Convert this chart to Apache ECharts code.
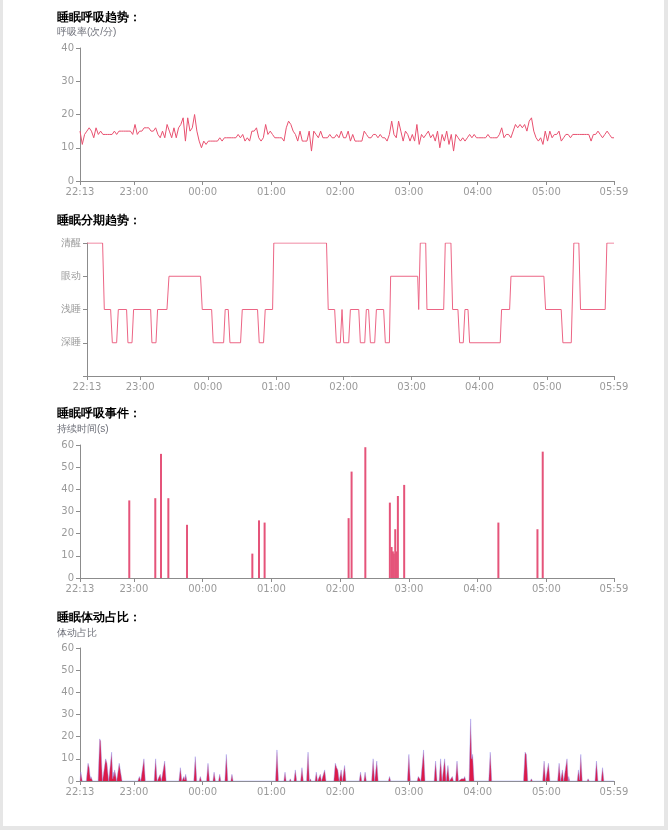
<!DOCTYPE html>
<html>
<head>
<meta charset="utf-8">
<script src="https://cdn.jsdelivr.net/npm/echarts@6/dist/echarts.min.js"></script>
<style>
  html, body { margin: 0; padding: 0; background: #e6e6e6; overflow: hidden; }
  #wrap { position: absolute; left: 3px; top: 0; width: 661px; height: 826px; background: #fff; }
  #main { width: 661px; height: 826px; }
</style>
</head>
<body>
<div id="wrap"><div id="main"></div></div>
<script>
// start of the night, all x values are minutes after this
var startTime = '22:13';
var timeLabels = ['22:13', '23:00', '00:00', '01:00', '02:00', '03:00', '04:00', '05:00', '05:59'];
var stageNames = ['', '深睡', '浅睡', '眼动', '清醒'];

// breathing rate, one reading every 2 minutes
var rateStep = 2;
var rateValues = [
  15, 11, 14, 15, 16, 15, 13, 16, 14, 15, 14, 14, 14, 14, 14, 15, 14, 15, 15, 15,
  15, 15, 15, 14, 17, 14, 15, 15, 16, 16, 16, 15, 15, 16, 14, 13, 15, 13, 17, 15,
  13, 16, 13, 16, 17, 19, 12, 19, 15, 16, 20, 15, 12, 10, 12, 11, 12, 12, 12, 12,
  12, 13, 12, 13, 13, 13, 13, 13, 13, 14, 13, 14, 12, 13, 12, 15, 15, 16, 13, 12,
  13, 17, 14, 15, 14, 13, 13, 13, 13, 12, 16, 18, 17, 15, 14, 12, 15, 12, 12, 12,
  15, 9, 15, 14, 13, 15, 13, 13, 13, 14, 13, 13, 14, 13, 15, 13, 13, 15, 12, 14,
  12, 12, 12, 12, 15, 14, 13, 13, 14, 14, 13, 14, 13, 13, 12, 14, 18, 14, 13, 18,
  15, 12, 15, 14, 12, 14, 12, 17, 11, 14, 13, 14, 15, 13, 14, 12, 15, 10, 14, 12,
  15, 11, 14, 9, 14, 13, 12, 13, 12, 13, 14, 13, 14, 13, 13, 13, 13, 13, 14, 13,
  13, 13, 13, 14, 16, 13, 14, 14, 13, 15, 17, 16, 17, 16, 17, 15, 18, 19, 15, 13,
  12, 13, 11, 15, 12, 15, 13, 14, 14, 15, 12, 13, 14, 14, 13, 14, 14, 14, 14, 14,
  14, 14, 14, 12, 14, 14, 15, 14, 13, 14, 15, 14, 13, 13
];

// sleep stage line vertices [minute, stage]
var stagePoints = [
  [0, 4], [13.8, 4], [15.3, 2], [20.9, 2], [22.4, 1], [26.2, 1], [27.7, 2], [35, 2],
  [36.2, 1], [39.8, 1], [41.2, 2], [56.3, 2], [57.4, 1], [61, 1], [62.4, 2], [70.7, 2],
  [72.5, 3], [100.4, 3], [101.9, 2], [110.2, 2], [111.6, 1], [120.8, 1], [122.2, 2], [124.9, 2],
  [126.4, 1], [135.8, 1], [137.3, 2], [150.8, 2], [152.3, 1], [156.1, 1], [157.6, 2], [164.1, 2],
  [165.2, 4], [211.8, 4], [213.3, 2], [219, 2], [220.5, 1], [224, 1], [225.5, 2], [226.1, 2],
  [227, 1], [231.4, 1], [232.9, 2], [240.3, 2], [241.7, 1], [245.6, 1], [247, 2], [249, 2],
  [250.6, 1], [254.4, 1], [255.9, 2], [262.3, 2], [263.8, 1], [267.4, 1], [268.5, 3], [292.4, 3],
  [293.3, 2], [294.7, 4], [299.5, 4], [300.6, 2], [315.4, 2], [316.8, 4], [321.8, 4], [323.3, 2],
  [328, 2], [329.5, 1], [332.7, 1], [334.2, 2], [336.9, 2], [338.3, 1], [365.4, 1], [366.6, 2],
  [373.7, 2], [374.9, 3], [404, 3], [405.5, 2], [419.3, 2], [420.8, 1], [428.2, 1], [430.5, 4],
  [434.9, 4], [436.4, 2], [458.2, 2], [459.7, 4], [466, 4]
];

// breathing events (duration in seconds)
var eventTimes = [43, 65.7, 70.7, 77.1, 93.4, 150.4, 156.2, 161.1, 234.4, 237, 249,
  270.4, 271.9, 273, 273.9, 275.1, 275.9, 277.4, 282.9, 365.1, 399.2, 403.8];
var eventValues = [35, 36, 56, 36, 24, 11, 26, 25, 27, 48, 59,
  34, 14, 12, 11, 22, 12, 37, 42, 25, 22, 57];

// body movement share [minute, percent]
var motionPoints = [
  [0, 0], [0.7, 4], [2, 0],
  [5.5, 0], [7, 8], [8, 6], [9, 1], [9.5, 2], [11, 0],
  [15.8, 0], [17.2, 19], [18, 18], [19.6, 0],
  [21, 0], [22.4, 10], [23.5, 8], [25, 0],
  [26.3, 0], [27.6, 13], [28.6, 1], [29, 4], [29.6, 2], [30.2, 5], [31, 3], [32, 0],
  [33, 0], [34.2, 8], [35.5, 8], [36.7, 0],
  [50.5, 0], [51.8, 2], [53, 0],
  [54.5, 0], [55.8, 10], [57, 0],
  [64.7, 0], [66, 10], [67.3, 0],
  [69, 0], [70, 3], [71, 0],
  [72.6, 0], [73.9, 9], [75.2, 0],
  [86.3, 0], [87.6, 6], [88.9, 0],
  [89.7, 0], [90.7, 2], [91.5, 0.5], [92.2, 3], [93.3, 0],
  [99.3, 0], [100.6, 11], [101.9, 0],
  [104, 0], [105, 2], [106, 0],
  [110.4, 0], [111.7, 8], [113, 0],
  [116, 0], [117, 4], [118.2, 0],
  [120.9, 0], [121.9, 3], [122.9, 0],
  [126.4, 0], [127.7, 12], [129, 0],
  [131.6, 0], [132.6, 3], [133.6, 0],
  [170.6, 0], [171.9, 14], [173.2, 0],
  [177.9, 0], [178.9, 4], [179.9, 0],
  [182.7, 0], [183.5, 1], [184.3, 0],
  [186.7, 0], [187.9, 5], [189.1, 0],
  [192.5, 0], [193.7, 6], [194.9, 0],
  [197.7, 0], [199, 13], [200.2, 0], [201, 1], [201.8, 0],
  [205.1, 0], [206.2, 4], [207.3, 0],
  [208.7, 0], [209.7, 3], [210.7, 0],
  [212.3, 0], [213.5, 5], [214.7, 0],
  [221.5, 0], [222.8, 8], [224, 6], [225, 5], [226.2, 0],
  [226.9, 0], [227.9, 5], [229, 0],
  [229.7, 0], [230.9, 7], [232.1, 0],
  [243.7, 0], [244.8, 4], [245.9, 0],
  [247.7, 0], [248.8, 4], [249.9, 0],
  [254.5, 0], [255.8, 10], [257.1, 0],
  [257.8, 0], [259, 9], [260.2, 0],
  [269.1, 0], [270.1, 2], [271.1, 0],
  [285.7, 0], [287, 12], [288.3, 0],
  [294.2, 0], [295.2, 2], [296.5, 1], [297.4, 0],
  [298.5, 0], [299.8, 14], [301.1, 0],
  [309, 0], [310.3, 9], [311.6, 0],
  [313.4, 0], [314.7, 10], [316, 0],
  [316.9, 0], [318.2, 10], [319.5, 0],
  [319.9, 0], [321.1, 7], [322.3, 0],
  [323.9, 0], [324.9, 2], [325.9, 0],
  [327.7, 0], [329, 9], [330.3, 0],
  [332, 0], [333, 1], [335, 1], [335.7, 2], [336.7, 0],
  [339.5, 0], [340.9, 28], [341.8, 10], [342.6, 12], [343.9, 0],
  [356.7, 0], [358, 13], [359.3, 0],
  [387, 0], [388.4, 13], [389.5, 12], [390.8, 0],
  [393, 0], [393.9, 1], [394.8, 0],
  [403.7, 0], [405, 9], [406.3, 0],
  [407.5, 0], [408.8, 8], [410.1, 0],
  [416.8, 0], [418.1, 8], [419.4, 0],
  [420, 0], [421, 5], [422, 0],
  [423.7, 0], [425, 10], [426, 0], [426.5, 2], [427.3, 0],
  [433.9, 0], [435, 5], [436, 0.5], [437, 12], [438.3, 0],
  [442.5, 0], [443.4, 1], [444.3, 0],
  [449.4, 0], [450.7, 9], [452, 0],
  [454.8, 0], [456, 6], [457.2, 0],
  [464.3, 0], [465, 0.5], [466, 0]
];

function clockToMin(s) {
  var p = s.split(':'), q = startTime.split(':');
  var d = (+p[0] * 60 + +p[1]) - (+q[0] * 60 + +q[1]);
  return d < 0 ? d + 1440 : d;
}
function minToClock(m) {
  var q = startTime.split(':');
  var t = (Math.round(m) + +q[0] * 60 + +q[1]) % 1440;
  var h = Math.floor(t / 60), mm = t % 60;
  return (h < 10 ? '0' : '') + h + ':' + (mm < 10 ? '0' : '') + mm;
}

var tickMins = timeLabels.map(clockToMin);
var endMin = tickMins[tickMins.length - 1];

var rateData = rateValues.map(function (v, i) { return [i * rateStep, v]; });
var eventData = eventTimes.map(function (t, i) { return [t, eventValues[i]]; });

var axisColor = '#8c8c8c';
var labelColor = '#9a9a9a';
var labelFont = 'DejaVu Sans';

function xAxisFor(idx) {
  return {
    type: 'value', gridIndex: idx, min: 0, max: endMin,
    axisLine: { show: true, lineStyle: { color: axisColor } },
    axisTick: { show: true, length: 4, customValues: tickMins, lineStyle: { color: axisColor } },
    axisLabel: { customValues: tickMins, color: labelColor, fontSize: 10, fontFamily: labelFont, margin: 6,
      formatter: function (v) { return minToClock(v); } },
    splitLine: { show: false }
  };
}
function yAxisFor(idx, max, interval, fmt) {
  return {
    type: 'value', gridIndex: idx, min: 0, max: max, interval: interval,
    axisLine: { show: true, lineStyle: { color: axisColor } },
    axisTick: { show: true, length: 4, lineStyle: { color: axisColor } },
    axisLabel: { color: labelColor, fontSize: 10, fontFamily: labelFont, margin: 6, formatter: fmt },
    splitLine: { show: false }
  };
}

var titleStyle = { fontSize: 12, fontWeight: 'bold', color: '#000' };
var subStyle = { fontSize: 10, fontWeight: 'normal', color: '#6e7079' };

var chart = echarts.init(document.getElementById('main'));
chart.setOption({
  animation: false,
  title: [
    { text: '睡眠呼吸趋势：', left: 54, top: 12, padding: 0, textStyle: titleStyle },
    { text: '呼吸率(次/分)', left: 54, top: 27, padding: 0, textStyle: subStyle },
    { text: '睡眠分期趋势：', left: 54, top: 215, padding: 0, textStyle: titleStyle },
    { text: '睡眠呼吸事件：', left: 54, top: 408, padding: 0, textStyle: titleStyle },
    { text: '持续时间(s)', left: 54, top: 424, padding: 0, textStyle: subStyle },
    { text: '睡眠体动占比：', left: 54, top: 612, padding: 0, textStyle: titleStyle },
    { text: '体动占比', left: 54, top: 628, padding: 0, textStyle: subStyle }
  ],
  grid: [
    { left: 77, right: 50, top: 48, height: 133 },
    { left: 84, right: 50, top: 243, height: 133 },
    { left: 77, right: 50, top: 445, height: 133 },
    { left: 77, right: 50, top: 648, height: 133 }
  ],
  xAxis: [xAxisFor(0), xAxisFor(1), xAxisFor(2), xAxisFor(3)],
  yAxis: [
    yAxisFor(0, 40, 10),
    yAxisFor(1, 4, 1, function (v) { return stageNames[v] || ''; }),
    yAxisFor(2, 60, 10),
    yAxisFor(3, 60, 10)
  ],
  series: [
    {
      type: 'line', xAxisIndex: 0, yAxisIndex: 0, data: rateData,
      showSymbol: false, lineStyle: { color: '#e8506f', width: 1 }
    },
    {
      type: 'line', xAxisIndex: 1, yAxisIndex: 1, data: stagePoints,
      showSymbol: false, lineStyle: { color: '#ec6585', width: 1 }
    },
    {
      type: 'bar', xAxisIndex: 2, yAxisIndex: 2, data: eventData,
      barWidth: 2, itemStyle: { color: '#e5547a' }
    },
    {
      type: 'line', xAxisIndex: 3, yAxisIndex: 3, data: motionPoints,
      showSymbol: false,
      lineStyle: { color: 'rgba(150,150,240,0.45)', width: 1 },
      areaStyle: { color: '#dc1a48', opacity: 1 }
    }
  ]
});
</script>
</body>
</html>
